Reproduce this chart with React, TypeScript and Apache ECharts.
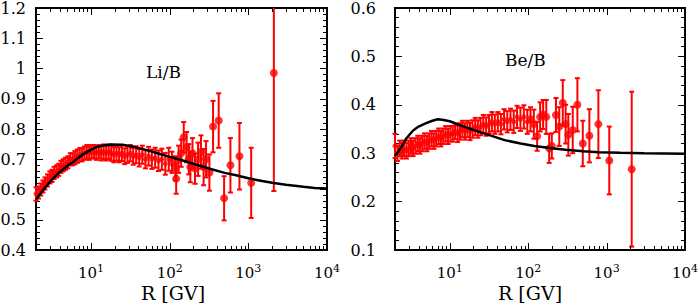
import React, { useEffect, useRef } from 'react';
import * as echarts from 'echarts';

// ---------- data ----------
const denseRigidity = [2.0, 2.15, 2.3, 2.45, 2.6, 2.8, 3.0, 3.2, 3.4, 3.65, 3.9, 4.15, 4.45, 4.75, 5.1, 5.45, 5.85, 6.25, 6.7, 7.2, 7.7, 8.25, 8.85, 9.5, 10.2, 10.9, 11.7, 12.6, 13.5, 14.5, 15.6, 16.8, 18.1, 19.5, 21.1, 22.8, 24.7, 26.8, 29.1, 31.6, 34.4, 37.5, 41.0, 44.9, 49.2, 54.0, 59.4, 65.4, 72.1, 79.6, 88.0, 97.4];

const liDenseRatio = [0.585, 0.59, 0.6, 0.61, 0.62, 0.63, 0.64, 0.645, 0.655, 0.66, 0.665, 0.675, 0.68, 0.685, 0.69, 0.7, 0.7, 0.705, 0.71, 0.715, 0.715, 0.72, 0.725, 0.72, 0.725, 0.725, 0.72, 0.725, 0.72, 0.725, 0.72, 0.725, 0.72, 0.715, 0.72, 0.715, 0.72, 0.71, 0.715, 0.72, 0.71, 0.715, 0.705, 0.715, 0.7, 0.71, 0.7, 0.705, 0.695, 0.7, 0.685, 0.7];
const liDenseError = [0.022, 0.02, 0.02, 0.02, 0.02, 0.02, 0.02, 0.02, 0.02, 0.02, 0.02, 0.02, 0.02, 0.02, 0.02, 0.02, 0.02, 0.022, 0.022, 0.022, 0.022, 0.022, 0.022, 0.022, 0.022, 0.022, 0.022, 0.022, 0.024, 0.024, 0.024, 0.024, 0.025, 0.025, 0.025, 0.025, 0.026, 0.026, 0.027, 0.027, 0.028, 0.028, 0.029, 0.03, 0.03, 0.031, 0.032, 0.033, 0.034, 0.035, 0.036, 0.038];

const liHighRigidity = [107, 118, 121, 130, 140, 151, 164, 175, 183, 195, 210, 230, 250, 270, 290, 320, 356, 420, 492, 592, 771, 1087, 2110];
const liHighRatio = [0.69, 0.67, 0.636, 0.7, 0.72, 0.773, 0.74, 0.7, 0.674, 0.72, 0.669, 0.7, 0.724, 0.674, 0.7, 0.656, 0.808, 0.828, 0.571, 0.68, 0.71, 0.622, 0.985];
const liHighError = [0.035, 0.04, 0.05, 0.045, 0.045, 0.05, 0.05, 0.05, 0.05, 0.05, 0.05, 0.055, 0.055, 0.06, 0.06, 0.06, 0.085, 0.09, 0.073, 0.09, 0.11, 0.116, 0.39];

const liModelRigidity = [2, 2.5, 3, 4, 5, 6, 8, 10, 12, 15, 18, 25, 35, 50, 70, 100, 150, 200, 300, 500, 700, 1000, 1500, 2000, 3000, 5000, 7000, 10000];
const liModelRatio = [0.567, 0.6, 0.625, 0.658, 0.678, 0.692, 0.717, 0.732, 0.741, 0.746, 0.749, 0.748, 0.741, 0.731, 0.72, 0.708, 0.695, 0.685, 0.671, 0.655, 0.647, 0.637, 0.628, 0.622, 0.616, 0.609, 0.605, 0.603];

const beDenseRatio = [0.315, 0.3, 0.31, 0.305, 0.31, 0.305, 0.31, 0.315, 0.31, 0.315, 0.32, 0.315, 0.32, 0.325, 0.32, 0.325, 0.33, 0.325, 0.33, 0.335, 0.33, 0.335, 0.34, 0.335, 0.34, 0.34, 0.345, 0.34, 0.345, 0.35, 0.345, 0.35, 0.345, 0.35, 0.355, 0.35, 0.355, 0.36, 0.355, 0.36, 0.365, 0.36, 0.365, 0.36, 0.37, 0.365, 0.37, 0.365, 0.375, 0.37, 0.375, 0.365];
const beDenseError = [0.025, 0.016, 0.016, 0.016, 0.016, 0.016, 0.016, 0.016, 0.016, 0.016, 0.016, 0.016, 0.016, 0.016, 0.016, 0.016, 0.016, 0.016, 0.016, 0.016, 0.016, 0.016, 0.016, 0.016, 0.016, 0.016, 0.016, 0.017, 0.017, 0.017, 0.017, 0.017, 0.018, 0.018, 0.018, 0.018, 0.018, 0.019, 0.019, 0.019, 0.02, 0.02, 0.02, 0.021, 0.021, 0.022, 0.022, 0.023, 0.023, 0.024, 0.024, 0.025];

const beHighRigidity = [107, 118, 130, 142, 155, 170, 185, 200, 226, 249, 276, 300, 325, 370, 424, 497, 603, 785, 1082, 2090];
const beHighRatio = [0.37, 0.36, 0.335, 0.375, 0.38, 0.375, 0.31, 0.315, 0.379, 0.355, 0.404, 0.36, 0.338, 0.348, 0.4, 0.32, 0.336, 0.36, 0.285, 0.267];
const beHighError = [0.025, 0.03, 0.03, 0.03, 0.03, 0.035, 0.03, 0.026, 0.035, 0.04, 0.047, 0.04, 0.043, 0.048, 0.055, 0.047, 0.055, 0.07, 0.07, 0.16];

const beModelRigidity = [2, 2.4, 2.8, 3.4, 4, 5, 6, 7, 8, 10, 14, 20, 30, 50, 80, 120, 200, 300, 500, 800, 1500, 3000, 10000];
const beModelRatio = [0.294, 0.312, 0.331, 0.347, 0.355, 0.362, 0.367, 0.37, 0.369, 0.366, 0.357, 0.348, 0.339, 0.327, 0.32, 0.315, 0.31, 0.307, 0.304, 0.302, 0.301, 0.3, 0.299];

const xMajorTicks = [10, 100, 1000];
const xMinorTicks = [3, 4, 5, 6, 7, 8, 9, 20, 30, 40, 50, 60, 70, 80, 90, 200, 300, 400, 500, 600, 700, 800, 900, 2000, 3000, 4000, 5000, 6000, 7000, 8000, 9000];

const xRange = [2, 10000];
const liYRange = [0.4, 1.2];
const beYRange = [0.1, 0.6];

// ---------- helpers ----------
const RED = '#ff0000';
const FONT = 'DejaVu Serif';
const CAP = 2.5;

function errorData(r: number[], v: number[], e: number[]) {
  return r.map((x, i) => [x, v[i] - e[i], v[i] + e[i]]);
}
function pointData(r: number[], v: number[]) {
  return r.map((x, i) => [x, v[i]]);
}

function errRender(params: any, api: any) {
  const x = api.value(0);
  const lo = api.value(1);
  const hi = api.value(2);
  const cs = params.coordSys;
  const pLo = api.coord([x, lo]);
  const pHi = api.coord([x, hi]);
  const top = cs.y;
  const bottom = cs.y + cs.height;
  let y1 = pHi[1];
  let y2 = pLo[1];
  const capTop = y1 >= top;
  const capBot = y2 <= bottom;
  y1 = Math.max(y1, top);
  y2 = Math.min(y2, bottom);
  const px = pLo[0];
  const style = { stroke: RED, lineWidth: 2 };
  const children: any[] = [
    { type: 'line', shape: { x1: px, y1, x2: px, y2 }, style },
  ];
  if (capTop) children.push({ type: 'line', shape: { x1: px - CAP, y1, x2: px + CAP, y2: y1 }, style });
  if (capBot) children.push({ type: 'line', shape: { x1: px - CAP, y1: y2, x2: px + CAP, y2 }, style });
  return { type: 'group', children };
}

function tickRender(len: number) {
  return (params: any, api: any) => {
    const cs = params.coordSys;
    const p = api.coord([api.value(0), api.value(1)]);
    const x = Math.round(p[0]) + 0.5;
    const b = cs.y + cs.height;
    const t = cs.y;
    const style = { stroke: '#000', lineWidth: 1 };
    return {
      type: 'group',
      children: [
        { type: 'line', shape: { x1: x, y1: b, x2: x, y2: b - len }, style },
        { type: 'line', shape: { x1: x, y1: t, x2: x, y2: t + len }, style },
      ],
    };
  };
}

function powLabel(v: number) {
  const e = Math.log10(v);
  const r = Math.round(e);
  if (Math.abs(e - r) > 1e-6) return '';
  return `{b|10}{s|${r}}`;
}

function xAxisCfg(gridIndex: number) {
  return {
    type: 'log',
    logBase: 10,
    gridIndex,
    min: xRange[0],
    max: xRange[1],
    axisLine: { show: false },
    axisTick: { show: false },
    minorTick: { show: false },
    splitLine: { show: false },
    axisLabel: {
      margin: 13,
      formatter: powLabel,
      color: '#000',
      fontFamily: FONT,
      rich: {
        b: { fontFamily: FONT, fontSize: 15, color: '#000', lineHeight: 17, verticalAlign: 'bottom' },
        s: { fontFamily: FONT, fontSize: 11, color: '#000', lineHeight: 6, verticalAlign: 'top' },
      },
    },
  };
}

function yAxisCfg(gridIndex: number, range: number[], position: string, margin: number) {
  const showLabel = position === 'left';
  return {
    type: 'value',
    gridIndex,
    position,
    min: range[0],
    max: range[1],
    interval: 0.1,
    axisLine: { show: false },
    axisTick: { show: true, inside: true, length: 7, lineStyle: { color: '#000', width: 1 } },
    minorTick: { show: true, splitNumber: 5, length: 4, lineStyle: { color: '#000', width: 1 } },
    splitLine: { show: false },
    minorSplitLine: { show: false },
    axisLabel: {
      show: showLabel,
      margin,
      color: '#000',
      fontFamily: FONT,
      fontSize: 16,
      lineHeight: 14,
    },
  };
}

function panelSeries(
  xi: number, yi: number, yMin: number,
  dR: number[], dV: number[], dE: number[],
  hR: number[], hV: number[], hE: number[],
  mR: number[], mV: number[],
) {
  return [
    {
      type: 'custom', xAxisIndex: xi, yAxisIndex: yi, renderItem: tickRender(7),
      data: xMajorTicks.map((t) => [t, yMin]), silent: true, z: 5,
    },
    {
      type: 'custom', xAxisIndex: xi, yAxisIndex: yi, renderItem: tickRender(4),
      data: xMinorTicks.map((t) => [t, yMin]), silent: true, z: 5,
    },
    {
      type: 'custom', xAxisIndex: xi, yAxisIndex: yi, renderItem: errRender,
      data: errorData(dR, dV, dE).concat(errorData(hR, hV, hE)), z: 2,
    },
    {
      type: 'scatter', xAxisIndex: xi, yAxisIndex: yi, data: pointData(dR, dV),
      symbol: 'circle', symbolSize: 5, itemStyle: { color: RED }, z: 3,
    },
    {
      type: 'scatter', xAxisIndex: xi, yAxisIndex: yi, data: pointData(hR, hV),
      symbol: 'circle', symbolSize: 8, itemStyle: { color: RED }, z: 3,
    },
    {
      type: 'line', xAxisIndex: xi, yAxisIndex: yi, data: pointData(mR, mV),
      showSymbol: false, symbol: 'none', lineStyle: { color: '#000', width: 2.5 }, z: 4,
    },
  ];
}

export default function App() {
  const ref = useRef<HTMLDivElement>(null);
  useEffect(() => {
    if (!ref.current) return;
    const chart = echarts.init(ref.current, undefined, { renderer: 'svg' });
    const grids = [
      { left: 36, top: 8, width: 291, height: 242 },
      { left: 395, top: 8, width: 290, height: 242 },
    ].map((g) => ({
      ...g, show: true, borderColor: '#000', borderWidth: 2, backgroundColor: 'transparent',
      containLabel: false, outerBoundsMode: 'none',
    }));

    const option: any = {
      animation: false,
      backgroundColor: '#fff',
      textStyle: { fontFamily: FONT },
      grid: grids,
      xAxis: [xAxisCfg(0), xAxisCfg(1)],
      yAxis: [
        yAxisCfg(0, liYRange, 'left', 10),
        yAxisCfg(0, liYRange, 'right', 8),
        yAxisCfg(1, beYRange, 'left', 19),
        yAxisCfg(1, beYRange, 'right', 8),
      ],
      graphic: [
        { type: 'text', left: 146, top: 63, style: { text: 'Li/B', fontFamily: FONT, fontSize: 17, fill: '#000' } },
        { type: 'text', left: 505, top: 51, style: { text: 'Be/B', fontFamily: FONT, fontSize: 17, fill: '#000' } },
        { type: 'text', left: 141, top: 283, style: { text: 'R [GV]', fontFamily: FONT, fontSize: 19, fill: '#000' } },
        { type: 'text', left: 498, top: 283, style: { text: 'R [GV]', fontFamily: FONT, fontSize: 19, fill: '#000' } },
      ],
      series: [
        ...panelSeries(0, 0, liYRange[0], denseRigidity, liDenseRatio, liDenseError, liHighRigidity, liHighRatio, liHighError, liModelRigidity, liModelRatio),
        ...panelSeries(1, 2, beYRange[0], denseRigidity, beDenseRatio, beDenseError, beHighRigidity, beHighRatio, beHighError, beModelRigidity, beModelRatio),
      ],
    };
    chart.setOption(option);
    return () => chart.dispose();
  }, []);
  return <div ref={ref} style={{ position: 'fixed', left: 0, top: 0, width: 700, height: 307, background: '#fff' }} />;
}
